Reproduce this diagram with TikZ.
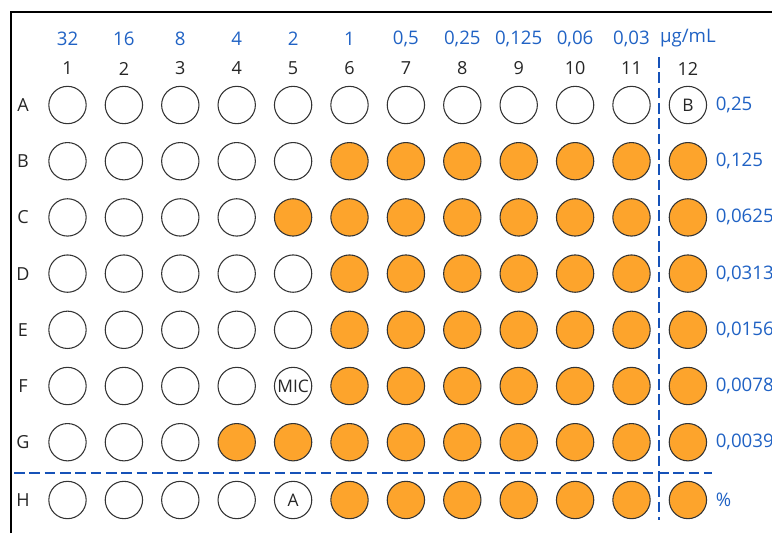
\documentclass[tikz,border=0pt]{standalone}
\usepackage{fontspec}
\setmainfont{Open Sans}
\usetikzlibrary{positioning}

\definecolor{plateblue}{HTML}{2062C4}
\definecolor{lineblue}{HTML}{1652B8}
\definecolor{wellorange}{HTML}{FDA42C}

\tikzset{
  well/.style={circle, draw=black!80, line width=0.8pt, minimum size=28pt, inner sep=0pt},
  grown/.style={well, fill=wellorange},
  welltext/.style={inner sep=0pt, text=black!85, font=\fontsize{13}{15}\selectfont},
  conc/.style={text=plateblue, font=\fontsize{14}{16}\selectfont},
  colnum/.style={text=black!85, font=\fontsize{13.5}{16}\selectfont},
  rowlabel/.style={text=black!85, font=\fontsize{13.5}{16}\selectfont},
  split/.style={lineblue, line width=1.6pt, dash pattern=on 8pt off 3.5pt}
}

\begin{document}
\begin{tikzpicture}[x=0.75pt, y=-0.75pt]
\clip (0,0) rectangle (772,533);

% Plate frame
\draw[line width=2.2pt] (11,533) -- (11,12) -- (772,12);

% Column headers
\foreach \c/\v in {1/32, 2/16, 3/8, 4/4, 5/2, 6/1, 7/{0,5}, 8/{0,25}, 9/{0,125}, 10/{0,06}, 11/{0,03}, 12/{µg/mL}} {
  \pgfmathsetmacro\xx{67.5+(\c-1)*56.4}
  \node[conc] (conc\c) at (\xx,38.5) {\v};
  \node[colnum] (col\c) at (\xx,68.5) {\c};
}

% Wells
\foreach \r/\yy/\first in {A/105/13, B/161.2/6, C/217.4/5, D/273.6/6, E/329.8/6, F/386/6, G/442.2/4, H/500/6} {
  \node[rowlabel] (lab\r) at (23,\yy) {\r};
  \foreach \c in {1,...,12} {
    \pgfmathsetmacro\xx{67.5+(\c-1)*56.4}
    \ifnum\c<\first
      \node[well] (\r\c) at (\xx,\yy) {};
    \else
      \node[grown] (\r\c) at (\xx,\yy) {};
    \fi
  }
}

% Marked wells
\node[welltext] (blank) at (A12) {B};
\node[welltext] (mic) at (F5) {MIC};
\node[welltext] (ctrl) at (H5) {A};

% Row values, column 12
\foreach \r/\v in {A/{0,25}, B/{0,125}, C/{0,0625}, D/{0,0313}, E/{0,0156}, F/{0,0078}, G/{0,0039}, H/{\%}} {
  \node[conc, right=3pt of \r12] (val\r) {\v};
}

% Dividers
\coordinate (vtop) at (659,57);
\coordinate (vbot) at (659,520);
\coordinate (hleft) at (14,473);
\coordinate (hright) at (712,473);
\draw[split] (vtop) -- (vbot);
\draw[split] (hleft) -- (hright);
\end{tikzpicture}
\end{document}
